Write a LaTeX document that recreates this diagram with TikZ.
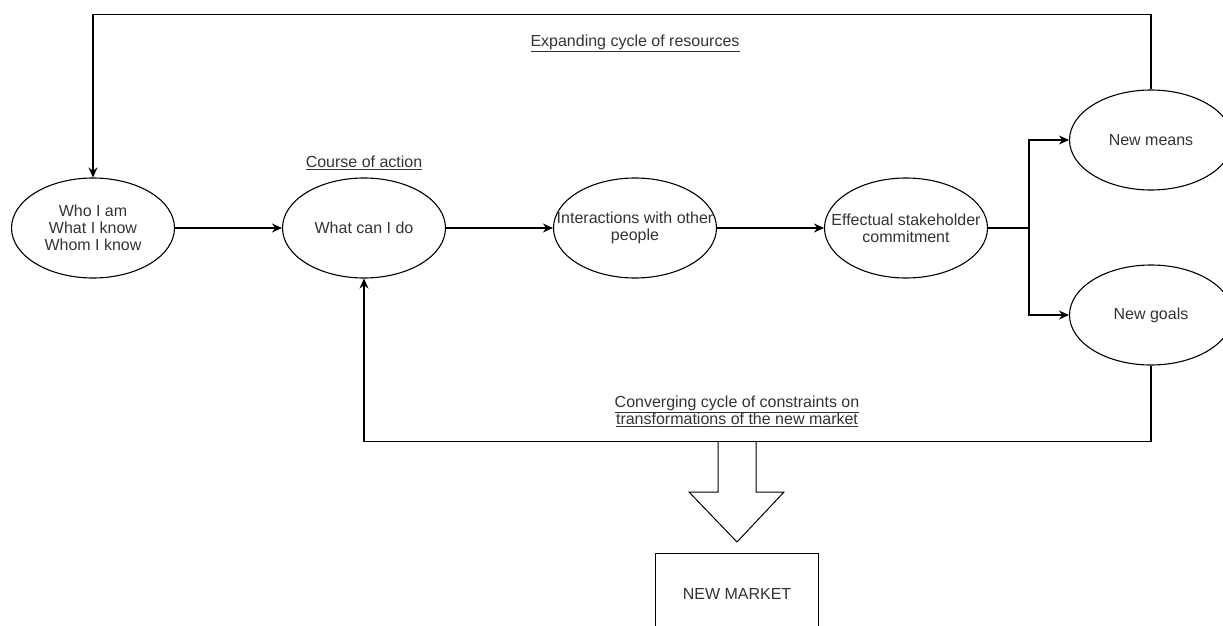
\documentclass[tikz,border=0pt]{standalone}
\usepackage{fontspec}
\setmainfont{Liberation Sans}
\usetikzlibrary{positioning, arrows.meta, shapes.geometric}
\definecolor{textgray}{HTML}{333333}

\begin{document}
\begin{tikzpicture}[x=1pt, y=-1pt,
		idea/.style={ellipse, draw, line width=1.1pt, minimum width=163pt, minimum height=100pt,
			inner xsep=-25pt, inner ysep=0pt, align=center, text=textgray, font=\fontsize{16}{17}\selectfont},
		flow/.style={line width=1.1pt, -{Stealth[length=10pt, width=9pt]}},
		link/.style={line width=1.1pt},
		caption/.style={align=center, text=textgray, font=\fontsize{16}{17}\selectfont}]
		% Page size
		\useasboundingbox (0, 0) rectangle (1223, 626);
		\clip (0, 0) rectangle (1223, 626);
		
		% Main chain of ellipses
		\node[idea] (who) at (93, 228) {Who I am\\What I know\\Whom I know};
		\node[idea] (cando) at (364, 228) {What can I do};
		\node[idea] (people) at (635, 228) {Interactions with other\\people};
		\node[idea] (commit) at (906, 228) {Effectual stakeholder\\commitment};
		\node[idea] (means) at (1151, 140) {New means};
		\node[idea] (goals) at (1151, 315) {New goals};
		
		% Labels
		\node[caption] (courselbl) at (364, 163) {\underline{Course of action}};
		\node[caption] (expandlbl) at (635, 43) {\underline{Expanding cycle of resources}};
		\node[caption] (convergelbl) at (737, 411) {\underline{Converging cycle of constraints on}\\\underline{transformations of the new market}};
		
		% Arrows along the chain
		\draw[flow] (who) -- (cando);
		\draw[flow] (cando) -- (people);
		\draw[flow] (people) -- (commit);
		\coordinate (split) at (1029, 228);
		\draw[link] (commit.east) -- (split);
		\draw[flow] (split) |- (means.west);
		\draw[flow] (split) |- (goals.west);
		
		% Feedback loops
		\draw[flow] (means.north) -- ++(0, -75) -| (who.north);
		\draw[flow] (goals.south) -- ++(0, 76) -| (cando.south);
		
		% Block arrow to the new market
		\draw[line width=1pt] (718, 441) -- (718, 492) -- (689, 492) -- (737, 542)
		-- (784, 492) -- (756, 492) -- (756, 441);
		\node[draw, line width=1pt, minimum width=163pt, minimum height=80pt, anchor=north,
			text=textgray, font=\fontsize{16}{17}\selectfont] (market) at (737, 553) {NEW MARKET};
	\end{tikzpicture}
\end{document}
